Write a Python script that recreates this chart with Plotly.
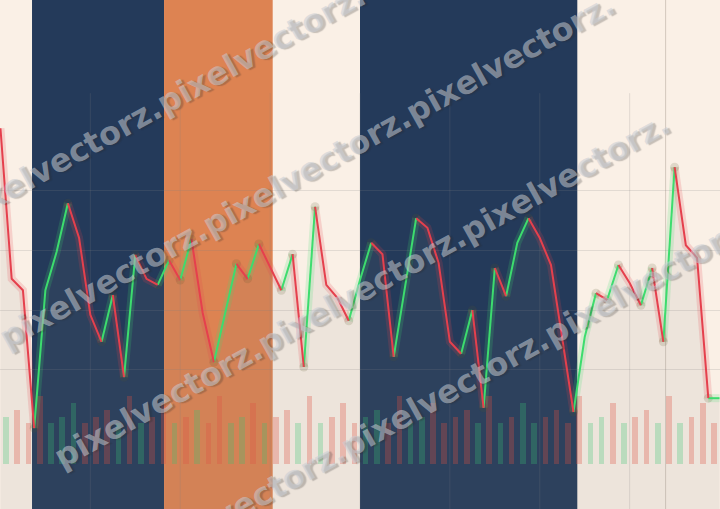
import plotly.graph_objects as go

# ---------------- data ----------------
price = [140.3, 115.2, 113.3, 90.3, 113.3, 119.7, 127.8, 122.0, 109.2, 104.7,
         112.5, 98.8, 119.2, 115.2, 114.2, 118.3, 115.0, 121.8, 109.5, 101.3,
         109.5, 117.7, 115.2, 121.0, 117.2, 113.3, 119.3, 100.5, 127.2, 114.2,
         112.0, 108.2, 115.0, 121.2, 119.3, 102.2, 113.7, 125.3, 123.7, 117.8,
         104.7, 102.7, 110.0, 93.7, 117.0, 112.3, 121.2, 125.3, 122.0, 117.5,
         105.3, 93.0, 105.5, 112.8, 111.7, 117.5, 114.5, 110.8, 117.0, 104.7,
         133.8, 120.8, 118.7, 95.3, 95.3]
idx = list(range(len(price)))

volume = [70, 80, 60, 100, 60, 70, 90, 60] * 8
volume_dir = list("GRRRGGGR" "RRGRGRRG" "RGRRGGRG" "RRGRGRRR"
                  "GGRRGGRR" "RRGRGRGG" "RRRRGGRG" "RRGRGRRR")
vol_idx = list(range(len(volume)))

# regime bands (start, end, colour) in bar-index units
regimes = [(2.81, 14.56, "#243a5a"),
           (14.56, 24.23, "#dd8352"),
           (32.0, 51.34, "#243a5a")]
grid_x = [8, 16, 24, 32, 40, 48, 56]
grid_y = [100, 110, 120, 130]
crosshair_x = 59.2

watermark = "pixelvectorz." * 3

# ---------------- styling ----------------
CREAM = "#faf0e6"
UP = "#3ddc6e"
DOWN = "#e5404d"
UP_GLOW = "rgba(61,220,110,0.18)"
DOWN_GLOW = "rgba(229,64,77,0.18)"


def runs(up_flag):
    xs, ys = [], []
    n = len(price)
    i = 0
    while i < n - 1:
        if (price[i + 1] >= price[i]) == up_flag:
            j = i
            while j < n - 1 and (price[j + 1] >= price[j]) == up_flag:
                j += 1
            xs += idx[i:j + 1] + [None]
            ys += price[i:j + 1] + [None]
            i = j
        else:
            i += 1
    return xs, ys


up_x, up_y = runs(True)
dn_x, dn_y = runs(False)

turn_x, turn_y = [], []
for k in range(1, len(price) - 1):
    d1 = price[k] >= price[k - 1]
    d2 = price[k + 1] >= price[k]
    if d1 != d2:
        turn_x.append(idx[k])
        turn_y.append(price[k])

fig = go.Figure()

# volume bars (base y axis)
fig.add_trace(go.Bar(
    x=vol_idx, y=volume, width=0.5, offset=0.25,
    marker=dict(color=["rgba(46,204,113,0.28)" if d == "G" else "rgba(231,76,60,0.3)"
                       for d in volume_dir], line=dict(width=0)),
    xaxis="x", yaxis="y", hoverinfo="skip", showlegend=False))

# area fill under price
fig.add_trace(go.Scatter(
    x=idx, y=price, mode="lines", line=dict(width=0), fill="tozeroy",
    fillcolor="rgba(128,128,128,0.10)", yaxis="y2", showlegend=False, hoverinfo="skip"))

# glow
fig.add_trace(go.Scatter(x=up_x, y=up_y, mode="lines", line=dict(color=UP_GLOW, width=8),
                         yaxis="y2", showlegend=False, hoverinfo="skip"))
fig.add_trace(go.Scatter(x=dn_x, y=dn_y, mode="lines", line=dict(color=DOWN_GLOW, width=8),
                         yaxis="y2", showlegend=False, hoverinfo="skip"))
fig.add_trace(go.Scatter(x=turn_x, y=turn_y, mode="markers",
                         marker=dict(size=9, color="rgba(90,85,45,0.16)", line=dict(width=0)),
                         yaxis="y2", showlegend=False, hoverinfo="skip"))
# main lines
fig.add_trace(go.Scatter(x=up_x, y=up_y, mode="lines", line=dict(color=UP, width=2),
                         yaxis="y2", showlegend=False))
fig.add_trace(go.Scatter(x=dn_x, y=dn_y, mode="lines", line=dict(color=DOWN, width=2),
                         yaxis="y2", showlegend=False))

shapes = []
for x0, x1, col in regimes:
    shapes.append(dict(type="rect", xref="x", yref="paper", x0=x0, x1=x1, y0=0, y1=1,
                       fillcolor=col, line=dict(width=0), layer="below"))
for gx in grid_x:
    shapes.append(dict(type="line", xref="x", yref="paper", x0=gx, x1=gx, y0=0, y1=0.817,
                       line=dict(color="rgba(128,128,128,0.2)", width=1), layer="below"))
shapes.append(dict(type="line", xref="x", yref="paper", x0=crosshair_x, x1=crosshair_x,
                   y0=0, y1=1, line=dict(color="rgba(120,105,95,0.3)", width=1), layer="below"))

wm_pos = [(0.080, 0.681), (0.426, 0.664), (0.503, 0.430), (0.618, 0.228)]
annotations = [dict(text=watermark, xref="paper", yref="paper", x=wx, y=wy,
                    xanchor="center", yanchor="middle", showarrow=False, textangle=-29,
                    font=dict(family="DejaVu Sans", size=32, weight="bold",
                              color="rgba(200,205,212,0.55)",
                              shadow="2px 2px 1px rgba(40,40,40,0.45)"))
               for wx, wy in wm_pos]

fig.update_layout(
    width=720, height=509,
    margin=dict(l=0, r=0, t=0, b=0),
    paper_bgcolor=CREAM, plot_bgcolor=CREAM,
    showlegend=False,
    bargap=0,
    xaxis=dict(range=[-0.04, 64.04], showgrid=False, zeroline=False,
               showticklabels=False, ticks="", showline=False),
    yaxis=dict(range=[-66.6, 686.4], showgrid=False, zeroline=False,
               showticklabels=False, ticks="", showline=False),
    yaxis2=dict(range=[76.83, 161.67], overlaying="y", tickvals=grid_y,
                showgrid=True, gridcolor="rgba(128,128,128,0.2)", gridwidth=1,
                zeroline=False, showticklabels=False, ticks="", showline=False),
    shapes=shapes,
    annotations=annotations,
)

fig.write_html("out.html", config={"displayModeBar": False},
               post_script="document.body.style.margin='0';document.body.style.overflow='hidden';")
